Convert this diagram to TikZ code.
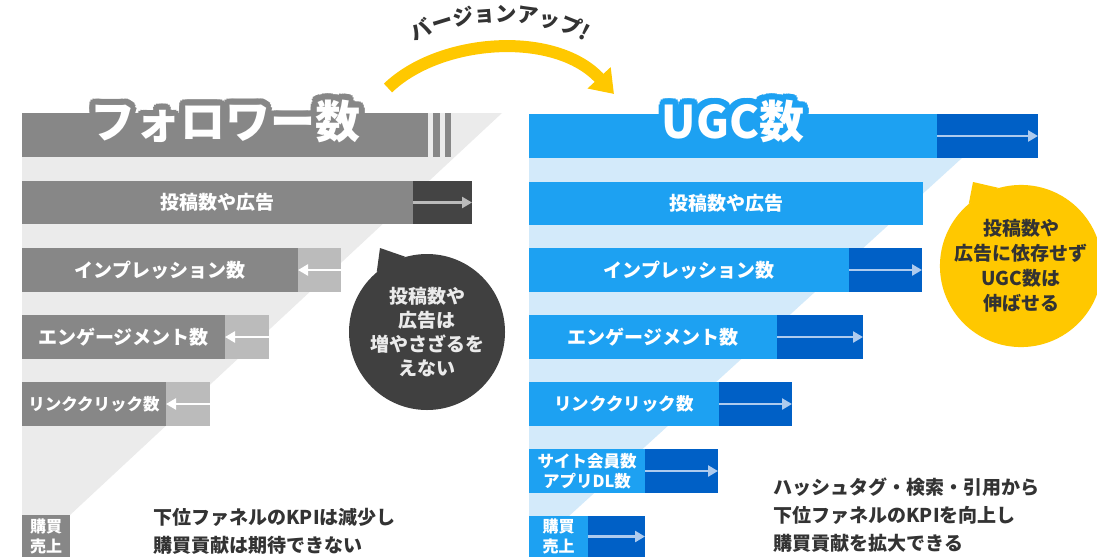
\documentclass[tikz,border=0pt]{standalone}
\usepackage{fontspec}
\setmainfont{Noto Sans CJK JP}
\usetikzlibrary{arrows.meta,decorations.text}

\definecolor{flgray}{HTML}{878787}
\definecolor{fldark}{HTML}{444444}
\definecolor{fllight}{HTML}{BBBBBB}
\definecolor{flback}{HTML}{EBEBEB}
\definecolor{ugcblue}{HTML}{1DA1F2}
\definecolor{ugcdark}{HTML}{0060C6}
\definecolor{ugcback}{HTML}{D3EAFA}
\definecolor{ugcarrow}{HTML}{AECBEE}
\definecolor{upyellow}{HTML}{FFC800}
\definecolor{bubdark}{HTML}{404040}
\definecolor{txtdark}{HTML}{333333}

\tikzset{
  bar/.style={rectangle, inner sep=0pt, outer sep=0pt, anchor=north west,
    minimum height=44pt, align=center, text=white,
    font=\bfseries\fontsize{19}{19}\selectfont},
  flow/.style={line width=2.5pt, -{Triangle[length=10pt,width=11pt]}},
  bubble/.style={circle, inner sep=0pt, align=center,
    font=\bfseries\fontsize{19}{24}\selectfont},
  ttl/.style={font=\bfseries\fontsize{45}{45}\selectfont},
  note/.style={anchor=west, align=left, text=txtdark,
    font=\bfseries\fontsize{19}{28}\selectfont},
}

\begin{document}
\begin{tikzpicture}[x=1pt,y=-1pt]
  \useasboundingbox[fill=white] (0,0) rectangle (1097,557);

  % funnels behind the bars
  \fill[flback] (22,113) -- (502,113) -- (70,515) -- (22,515) -- cycle;
  \fill[ugcback] (529,158) -- (962,158) -- (569,516) -- (529,516) -- cycle;

  % left: follower count
  \begin{scope}[every node/.style={bar, fill=flgray}]
    \node[minimum width=406pt] (hdL) at (22,113) {};
    \node[minimum width=7pt] (stA) at (433,113) {};
    \node[minimum width=6pt] (stB) at (445,113) {};
    \node[minimum width=391pt, minimum height=43pt] (pL) at (22,181) {投稿数や広告};
    \node[minimum width=276pt] (iL) at (22,248) {インプレッション数};
    \node[minimum width=203pt] (eL) at (22,315) {エンゲージメント数};
    \node[minimum width=144pt, font=\bfseries\fontsize{16.5}{16.5}\selectfont] (cL) at (22,382) {リンククリック数};
    \node[minimum width=48pt, minimum height=42pt, font=\bfseries\fontsize{16}{20}\selectfont] (sL) at (22,515) {購買\\売上};
  \end{scope}
  \node[bar, fill=fldark, minimum width=59pt, minimum height=43pt] (pLx) at (413,181) {};
  \begin{scope}[every node/.style={bar, fill=fllight}]
    \node[minimum width=43pt] (iLx) at (298,248) {};
    \node[minimum width=44pt] (eLx) at (225,315) {};
    \node[minimum width=44pt] (cLx) at (166,382) {};
  \end{scope}

  \draw[flow, fllight] (pLx.west) -- (pLx.east);
  \draw[flow, white] (iLx.east) -- (iLx.west);
  \draw[flow, white] (eLx.east) -- (eLx.west);
  \draw[flow, white] (cLx.east) -- (cLx.west);

  \coordinate (ttlL) at (225,121);
  \foreach \a in {0,22.5,...,337.5}
    \node[ttl, text=flgray] at ([shift={(\a:6)}]ttlL) {フォロワー数};
  \node[ttl, text=white] (titleL) at (ttlL) {フォロワー数};

  % right: UGC count
  \begin{scope}[every node/.style={bar, fill=ugcblue}]
    \node[minimum width=408pt] (hdR) at (529,114) {};
    \node[minimum width=394pt, minimum height=43pt] (pR) at (529,182) {投稿数や広告};
    \node[minimum width=320pt] (iR) at (529,248) {インプレッション数};
    \node[minimum width=248pt] (eR) at (529,315) {エンゲージメント数};
    \node[minimum width=190pt, font=\bfseries\fontsize{17.5}{17.5}\selectfont] (cR) at (529,382) {リンククリック数};
    \node[minimum width=116pt, font=\bfseries\fontsize{16.5}{20}\selectfont] (mR) at (529,449) {サイト会員数\\アプリDL数};
    \node[minimum width=59pt, minimum height=41pt, font=\bfseries\fontsize{16}{20}\selectfont] (sR) at (529,516) {購買\\売上};
  \end{scope}
  \begin{scope}[every node/.style={bar, fill=ugcdark}]
    \node[minimum width=101pt] (hdRx) at (937,114) {};
    \node[minimum width=73pt] (iRx) at (849,248) {};
    \node[minimum width=86pt] (eRx) at (777,315) {};
    \node[minimum width=73pt] (cRx) at (719,382) {};
    \node[minimum width=73pt] (mRx) at (645,449) {};
    \node[minimum width=57pt, minimum height=41pt] (sRx) at (588,516) {};
  \end{scope}

  \foreach \s in {hdRx,iRx,eRx,cRx,mRx,sRx}
    \draw[flow, ugcarrow] (\s.west) -- (\s.east);

  \coordinate (ttlR) at (733,121);
  \foreach \a in {0,22.5,...,337.5}
    \node[ttl, text=ugcblue] at ([shift={(\a:6)}]ttlR) {UGC数};
  \node[ttl, text=white] (titleR) at (ttlR) {UGC数};

  % version-up arrow
  \coordinate (upS) at (388,88);
  \coordinate (upE) at (614,94);
  \draw[upyellow, line width=12pt, -{Triangle[length=22pt,width=30pt]}]
    (upS) .. controls (440,38) and (555,30) .. (upE);
  \path[decorate, decoration={text along path, text align=center,
      text={|\bfseries\fontsize{21}{21}\selectfont\color{txtdark}|バージョンアップ!}}]
    (402,50) .. controls (455,12) and (545,12) .. (598,50);

  % speech bubbles
  \node[bubble, fill=bubdark, text=white!92!black, minimum size=156pt] (bubL) at (427,332)
    {投稿数や\\広告は\\増やさざるを\\えない};
  \coordinate (tipL) at (380,248);
  \fill[bubdark] (tipL) -- (bubL.130) -- (bubL.106) -- cycle;

  \node[bubble, fill=upyellow, text=txtdark, minimum size=148pt,
    font=\bfseries\fontsize{19}{25}\selectfont] (bubR) at (1021,266)
    {投稿数や\\広告に依存せず\\UGC数は\\伸ばせる};
  \coordinate (tipR) at (973,182);
  \fill[upyellow] (tipR) -- (bubR.130) -- (bubR.106) -- cycle;

  % notes
  \node[note] (noteL) at (150,531) {下位ファネルのKPIは減少し\\購買貢献は期待できない};
  \node[note] (noteR) at (770,515) {ハッシュタグ・検索・引用から\\下位ファネルのKPIを向上し\\購買貢献を拡大できる};
\end{tikzpicture}
\end{document}
